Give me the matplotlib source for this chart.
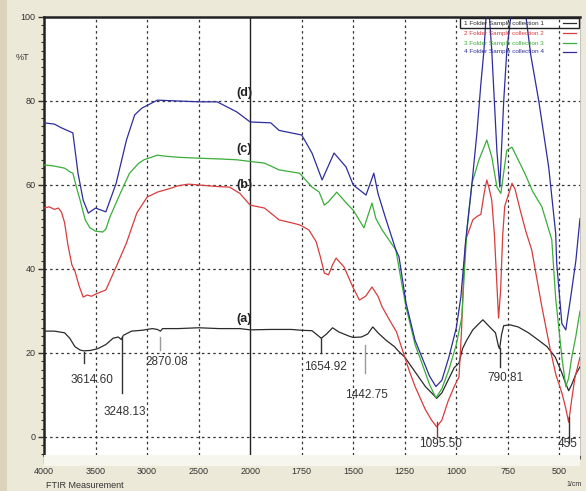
import numpy as np
import matplotlib.pyplot as plt
from matplotlib.patches import Rectangle
from matplotlib.ticker import FixedLocator

# --------------------------------------------------
# Spectra (wavenumber in 1/cm, transmittance in %T)
# --------------------------------------------------
wn_a = [4000, 3900, 3800, 3750, 3700, 3650, 3614, 3550, 3480, 3400, 3330, 3280, 3250, 3230,
        3150, 3050, 2950, 2900, 2870, 2850, 2700, 2500, 2300, 2100, 2000, 1900, 1800, 1750,
        1700, 1680, 1655, 1630, 1600, 1570, 1520, 1500, 1460, 1430, 1405, 1380, 1340, 1300,
        1278, 1250, 1200, 1150, 1120, 1095, 1070, 1040, 1010, 987, 970, 950, 920, 890, 871,
        850, 830, 810, 795, 790, 780, 770, 740, 700, 650, 600, 560, 520, 490, 470, 455, 440,
        420, 400]
t_a = [25.2, 25.2, 24.8, 23.5, 21.5, 20.7, 20.5, 20.6, 21.0, 22.0, 23.5, 23.8, 23.2, 24.2,
       25.2, 25.4, 25.8, 25.6, 25.2, 25.8, 25.8, 26.0, 25.8, 25.8, 25.5, 25.6, 25.6, 25.4,
       25.3, 24.5, 23.5, 24.5, 26.0, 25.0, 24.0, 23.7, 23.8, 24.5, 26.2, 24.8, 23.0, 21.5,
       20.3, 19.0, 15.5, 12.0, 10.5, 9.2, 10.5, 13.5, 16.5, 17.6, 21.0, 23.0, 25.5, 27.0, 27.9,
       26.8, 25.8, 24.8, 21.5, 21.0, 24.5, 26.5, 26.7, 26.2, 24.8, 23.0, 21.5, 19.0, 15.5, 12.8,
       11.0, 12.5, 15.0, 16.7]

wn_b = [4000, 3950, 3900, 3860, 3830, 3800, 3770, 3730, 3700, 3660, 3620, 3580, 3540, 3500,
        3400, 3300, 3200, 3100, 3000, 2900, 2800, 2700, 2600, 2500, 2400, 2300, 2200, 2100,
        2000, 1930, 1860, 1800, 1760, 1715, 1680, 1660, 1640, 1620, 1600, 1583, 1545, 1500,
        1470, 1440, 1409, 1380, 1360, 1320, 1290, 1260, 1230, 1200, 1150, 1120, 1095, 1070,
        1040, 1010, 987, 975, 965, 954, 920, 900, 881, 865, 852, 840, 828, 815, 805, 795, 785,
        775, 765, 745, 730, 715, 690, 663, 634, 585, 545, 518, 488, 470, 455, 440, 425, 400]
t_b = [54.5, 54.8, 54.2, 54.5, 53.5, 51.0, 46.0, 41.0, 39.5, 36.0, 33.3, 33.8, 33.5, 34.0,
       35.0, 40.5, 46.2, 53.3, 57.1, 58.3, 59.0, 59.8, 60.2, 60.0, 59.8, 59.6, 59.5, 58.0,
       55.2, 54.5, 51.7, 51.0, 50.5, 49.3, 46.5, 43.0, 39.0, 38.6, 41.0, 42.6, 40.5, 35.5,
       32.6, 33.5, 35.7, 33.5, 31.0, 27.5, 25.0, 20.5, 16.0, 12.0, 6.5, 4.0, 2.4, 4.0,
       8.5, 12.0, 14.3, 25.0, 38.0, 47.0, 51.7, 52.5, 53.0, 58.0, 61.2, 59.0, 56.4, 48.0, 38.0,
       28.3, 35.0, 48.0, 55.0, 58.0, 60.4, 59.0, 54.0, 49.0, 44.5, 31.0, 21.0, 15.0, 10.5,
       7.0, 3.5, 9.0, 14.0, 19.0]

wn_c = [4000, 3900, 3800, 3740, 3720, 3680, 3650, 3600, 3555, 3500, 3430, 3400, 3360, 3260,
        3170, 3080, 3030, 2900, 2800, 2700, 2520, 2300, 2130, 2000, 1930, 1860, 1760, 1700,
        1665, 1640, 1620, 1580, 1530, 1500, 1448, 1409, 1390, 1360, 1293, 1270, 1244, 1200,
        1167, 1130, 1099, 1070, 1036, 1000, 973, 960, 949, 924, 890, 852, 828, 803, 784, 770,
        755, 730, 700, 668, 630, 585, 537, 518, 488, 469, 455, 440, 420, 400]
t_c = [64.8, 64.5, 64.0, 63.0, 62.8, 59.0, 56.4, 51.7, 49.8, 49.0, 48.8, 49.5, 52.4, 58.0,
       62.8, 65.2, 66.0, 67.1, 66.8, 66.6, 66.4, 66.2, 66.0, 65.6, 65.2, 63.6, 62.8, 59.5,
       58.3, 55.2, 56.0, 58.3, 55.5, 54.0, 49.8, 55.7, 52.0, 49.3, 44.5, 38.0, 31.0, 22.0,
       17.6, 12.5, 9.3, 11.5, 16.0, 22.0, 28.6, 40.0, 49.0, 60.4, 66.0, 70.7, 66.7, 59.5, 58.0,
       63.0, 68.3, 69.0, 66.0, 62.8, 58.5, 54.8, 47.0, 33.0, 19.0, 12.0, 14.0, 19.0, 24.0, 30.0]

wn_d = [4000, 3900, 3830, 3720, 3670, 3620, 3570, 3500, 3400, 3300, 3200, 3120, 3050, 2900,
        2700, 2500, 2320, 2130, 2000, 1900, 1860, 1750, 1700, 1651, 1593, 1535, 1500, 1438,
        1400, 1380, 1345, 1293, 1278, 1244, 1200, 1167, 1130, 1099, 1070, 1036, 1000, 978, 954,
        924, 900, 881, 866, 848, 828, 803, 789, 770, 755, 700, 639, 600, 552, 518, 513, 488,
        469, 445, 420, 400]
t_d = [74.8, 74.5, 73.6, 72.4, 62.8, 56.4, 53.3, 54.5, 53.6, 60.4, 70.7, 76.7, 78.3, 80.2,
       80.0, 79.8, 79.8, 77.4, 75.0, 74.8, 73.0, 71.9, 67.6, 61.2, 67.6, 64.3, 60.0, 57.6,
       62.8, 58.0, 52.4, 44.5, 42.9, 31.9, 23.0, 19.0, 14.5, 12.0, 13.5, 19.0, 26.0, 33.3, 47.0,
       60.4, 72.4, 84.0, 92.0, 106.0, 92.0, 68.0, 59.5, 80.0, 92.0, 115.0, 91.0, 80.0, 64.3,
       48.5, 41.4, 27.0, 25.5, 33.3, 42.0, 52.0]

spectra = [
    (wn_a, t_a, '#2b2b2b'),
    (wn_b, t_b, '#d83c3c'),
    (wn_c, t_c, '#3aad3a'),
    (wn_d, t_d, '#2d2d9e'),
]

# peak labels: text, marker wn, marker top/bottom (%T), text wn, text %T, marker colour
peaks = [
    ('3614.60', 3614, 20.2, 17.6, 3535, 13.6, '#333333'),
    ('3248.13', 3244, 23.8, 10.5, 3215, 6.0, '#333333'),
    ('2870.08', 2876, 23.8, 20.7, 2808, 17.9, '#999999'),
    ('1654.92', 1655, 23.6, 20.0, 1637, 16.7, '#333333'),
    ('1442.75', 1442, 21.9, 15.2, 1438, 10.0, '#999999'),
    ('1095.50', 1094, 3.6, 0.0, 1075, -1.7, '#8a3a3a'),
    ('790.81', 789, 21.2, 16.7, 760, 14.0, '#333333'),
    ('455', 455, 4.8, -1.4, 460, -1.7, '#333333'),
]

# curve letters: text, wn, %T
letters = [('(d)', 1990, 82.0), ('(c)', 1990, 68.5), ('(b)', 1990, 60.0), ('(a)', 1990, 28.0)]

legend_names = ['1 Folder Sample collection 1', '2 Folder Sample collection 2',
                '3 Folder Sample collection 3', '4 Folder Sample collection 4']

xticks = [4000, 3500, 3000, 2500, 2000, 1750, 1500, 1250, 1000, 750, 500]
yticks = [0, 20, 40, 60, 80, 100]


# piecewise axis: 4000-2000 compressed by 2
def fwd(w):
    w = np.asarray(w, dtype=float)
    return np.where(w > 2000, 2000 + (w - 2000) / 2.0, w)


def inv(u):
    u = np.asarray(u, dtype=float)
    return np.where(u > 2000, 2000 + (u - 2000) * 2.0, u)


plt.rcParams['font.family'] = ['Liberation Sans', 'DejaVu Sans']

fig = plt.figure(figsize=(5.86, 4.91), dpi=100, facecolor='#ECE9D8')
W, H = 586.0, 491.0
ax = fig.add_axes([44 / W, 1 - 455 / H, (580 - 44) / W, (455 - 17) / H])
ax.set_facecolor('white')
ax.set_xscale('function', functions=(fwd, inv))
ax.set_xlim(4000, 400)
ax.set_ylim(-4.3, 100)

# strip below plot with tick marks
fig.patches.append(Rectangle((44 / W, 1 - 466 / H), (580 - 44) / W, 11 / H,
                             transform=fig.transFigure, facecolor='#F6F5EE',
                             edgecolor='none', zorder=0))
fig.patches.append(Rectangle((0, 0), 7 / W, 1, transform=fig.transFigure,
                             facecolor='#DCD3BC', edgecolor='none', zorder=0))

# grid
for x in xticks[1:]:
    if x == 2000:
        ax.axvline(x, color='#222222', lw=1.0, zorder=1)
    else:
        ax.axvline(x, color='#333333', lw=0.9, ls=(0, (2, 2.5)), zorder=1)
for y in yticks[:-1]:
    ax.axhline(y, color='#333333', lw=0.9, ls=(0, (2, 2.5)), zorder=1)

for wn, t, col in spectra:
    ax.plot(wn, t, color=col, lw=0.9, zorder=3)

for txt, wm, y1, y2, wt, yt, col in peaks:
    ax.plot([wm, wm], [y1, y2], color=col, lw=1.0, zorder=4)
    ax.text(wt, yt, txt, fontsize=8.5, color='#333333', ha='center', va='center', zorder=5)

for txt, wn, t in letters:
    ax.text(wn, t, txt, fontsize=9, fontweight='bold', color='#222222',
            ha='right', va='center', zorder=5)

# ticks
ax.set_xticks(xticks)
ax.set_xticklabels([str(x) for x in xticks])
minor_x = list(range(3900, 2000, -100)) + list(range(1950, 399, -50))
ax.xaxis.set_minor_locator(FixedLocator([m for m in minor_x if m not in xticks]))
ax.set_yticks(yticks)
ax.set_yticklabels([str(y) for y in yticks])
ax.yaxis.set_minor_locator(FixedLocator([m for m in range(-4, 100, 2) if m % 20]))
ax.tick_params(axis='x', which='major', direction='out', length=6, width=0.9,
               labelsize=6.5, pad=3, colors='#333333')
ax.tick_params(axis='x', which='minor', direction='out', length=3, width=0.8, colors='#555555')
ax.tick_params(axis='y', which='major', direction='out', length=4, width=1.0,
               labelsize=6.5, pad=2, colors='#333333')
ax.tick_params(axis='y', which='minor', direction='out', length=2.5, width=0.8, colors='#333333')

for side in ['left', 'top']:
    ax.spines[side].set_linewidth(1.8)
    ax.spines[side].set_color('#222222')
for side in ['right', 'bottom']:
    ax.spines[side].set_linewidth(0.6)
    ax.spines[side].set_color('#bbbbbb')

fig.text(22 / W, 1 - 58 / H, '%T', fontsize=6.5, color='#333333', ha='center', va='center')
fig.text(46 / W, 1 - 486 / H, 'FTIR Measurement', fontsize=6.5, color='#333333',
         ha='left', va='center')
fig.text(582 / W, 1 - 484 / H, '1/cm', fontsize=5, color='#333333', ha='right', va='center')

# legend block (top right)
leg_y = [23, 33, 43, 52]
for (wn, t, col), name, py in zip(spectra, legend_names, leg_y):
    fig.text(464 / W, 1 - py / H, name, fontsize=4.6, color=col, ha='left', va='center')
    fig.lines.append(plt.Line2D([563 / W, 576 / W], [1 - py / H, 1 - py / H],
                                transform=fig.transFigure, color=col, lw=0.9))
fig.patches.append(Rectangle((460 / W, 1 - 28 / H), 119 / W, 10 / H,
                             transform=fig.transFigure, facecolor='none',
                             edgecolor='#222222', lw=1.0))

fig.savefig('out.png', dpi=100, facecolor=fig.get_facecolor())
